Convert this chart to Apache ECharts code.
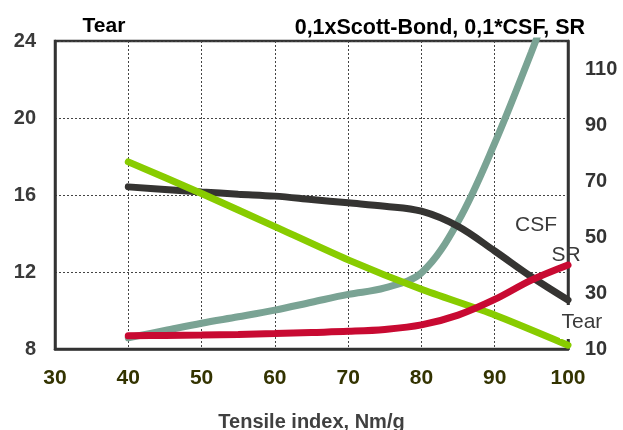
<!DOCTYPE html>
<html><head><meta charset="utf-8">
<script src="https://cdn.jsdelivr.net/npm/echarts@6/dist/echarts.min.js"></script>
<style>html,body{margin:0;padding:0;background:#fff}#c{width:623px;height:430px}</style>
</head><body><div id="c"></div>
<script>
// ---- data ----
const tensileTear = [40, 50, 60, 70, 80, 90, 100];
const tearValues = [17.72, 16.08, 14.36, 12.63, 11.1, 9.77, 8.2];
const tensile = [40, 45, 50, 55, 60, 65, 70, 75, 80, 85, 90, 95, 100];
const scottBond = [14.0, 16.6, 19.2, 21.5, 23.9, 26.7, 29.5, 31.8, 37.2, 55.5, 83.5, 116, 150];
const csf = [67.9, 67.0, 66.1, 65.3, 64.6, 63.4, 62.2, 61.0, 59.2, 53.8, 45, 35.8, 27.5];
const sr = [14.7, 14.85, 15.0, 15.2, 15.5, 15.9, 16.3, 17.0, 18.6, 22.1, 27.7, 34.6, 40];
const rightTickLabels = [10, 30, 50, 70, 90, 110];
const leftTitle = 'Tear';
const rightTitle = '0,1xScott-Bond, 0,1*CSF, SR';
const xName = 'Tensile index, Nm/g';
const seriesLabels = ['CSF', 'SR', 'Tear'];

const pairs = (xs, ys) => xs.map((x, i) => [x, ys[i]]);
const chart = echarts.init(document.getElementById('c'));
const font = 'Liberation Sans, Arial, sans-serif';
const lineBase = { type: 'line', showSymbol: false, symbol: 'none', smooth: 0.35, clip: true };

chart.setOption({
  animation: false,
  grid: { left: 55, right: 55, top: 41, bottom: 81, outerBoundsMode: 'none', containLabel: false, show: true, borderColor: '#333', borderWidth: 2.5, backgroundColor: 'transparent' },
  xAxis: {
    type: 'value', min: 30, max: 100, interval: 10,
    name: xName, nameLocation: 'middle', nameGap: 63,
    nameTextStyle: { fontFamily: font, fontWeight: 'bold', fontSize: 20, color: '#404040' },
    axisLine: { show: true, lineStyle: { color: '#333', width: 2.5 } },
    axisTick: { show: false },
    axisLabel: { fontFamily: font, fontWeight: 'bold', fontSize: 21, color: '#333300', margin: 19 },
    splitLine: { show: true, lineStyle: { color: '#444', width: 1, type: [2, 2] } }
  },
  yAxis: [{
    type: 'value', min: 8, max: 24, interval: 4, position: 'left',
    axisLine: { show: true, lineStyle: { color: '#333', width: 2.5 } },
    axisTick: { show: false },
    axisLabel: { fontFamily: font, fontWeight: 'bold', fontSize: 20, color: '#3a3a3a', margin: 19 },
    splitLine: { show: true, lineStyle: { color: '#444', width: 1, type: [2, 2] } }
  }, {
    type: 'value', min: 10, max: 120, interval: 10, position: 'right',
    axisLine: { show: true, lineStyle: { color: '#333', width: 2.5 } },
    axisTick: { show: false },
    axisLabel: {
      fontFamily: font, fontWeight: 'bold', fontSize: 20, color: '#333', margin: 17,
      formatter: v => rightTickLabels.indexOf(v) >= 0 ? String(v) : ''
    },
    splitLine: { show: false }
  }],
  series: [
    Object.assign({}, lineBase, { name: 'Scott-Bond', yAxisIndex: 1, data: pairs(tensile, scottBond), lineStyle: { color: '#7aa394', width: 7, cap: 'round' } }),
    Object.assign({}, lineBase, { name: 'CSF', yAxisIndex: 1, data: pairs(tensile, csf), lineStyle: { color: '#353432', width: 7, cap: 'round' } }),
    Object.assign({}, lineBase, { name: 'Tear', yAxisIndex: 0, smooth: 0.2, data: pairs(tensileTear, tearValues), lineStyle: { color: '#88cc00', width: 7, cap: 'round' } }),
    Object.assign({}, lineBase, { name: 'SR', yAxisIndex: 1, data: pairs(tensile, sr), lineStyle: { color: '#c80a32', width: 7, cap: 'round' } })
  ],
  graphic: [
    { type: 'text', z: 100, style: { text: leftTitle, x: 82.5, y: 26, textVerticalAlign: 'middle', font: 'bold 21px ' + font, fill: '#000' } },
    { type: 'text', z: 100, style: { text: rightTitle, x: 585, y: 28.5, textAlign: 'right', textVerticalAlign: 'middle', font: 'bold 21.5px ' + font, fill: '#000' } },
    { type: 'rect', z: 99, shape: { x: 560, y: 305, width: 48, height: 34 }, style: { fill: '#fff' } },
    { type: 'text', z: 100, style: { text: seriesLabels[0], x: 515, y: 225.5, textVerticalAlign: 'middle', font: '21px ' + font, fill: '#3a3a3a' } },
    { type: 'text', z: 100, style: { text: seriesLabels[1], x: 551.5, y: 255, textVerticalAlign: 'middle', font: '21px ' + font, fill: '#3a3a3a' } },
    { type: 'text', z: 100, style: { text: seriesLabels[2], x: 561.5, y: 322.5, textVerticalAlign: 'middle', font: '21px ' + font, fill: '#3a3a3a' } }
  ]
});
</script></body></html>
